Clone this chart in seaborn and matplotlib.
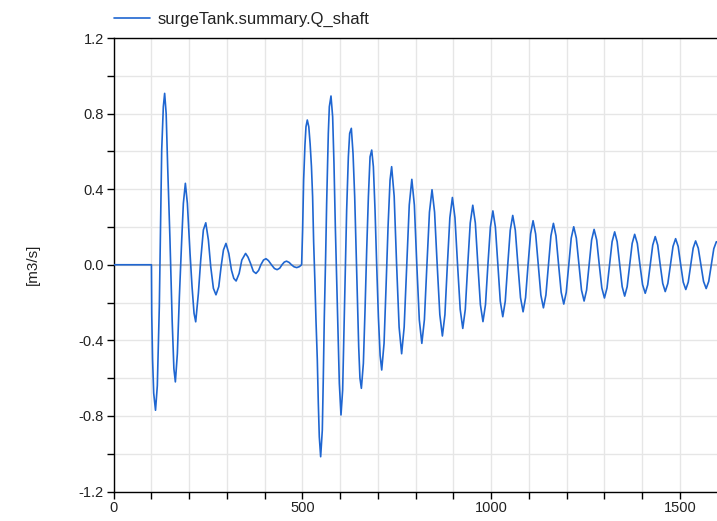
import matplotlib
matplotlib.use("Agg")
import matplotlib.pyplot as plt
import seaborn as sns
import pandas as pd
from matplotlib.ticker import MultipleLocator, FixedLocator

# ---- data ----
series_label = "surgeTank.summary.Q_shaft"
y_label = "[m3/s]"
x_ticks = [0, 500, 1000, 1500]
y_ticks = [-1.2, -0.8, -0.4, 0.0, 0.4, 0.8, 1.2]

first_time = [0, 100, 100.8, 103, 106, 110.8, 115.6, 120.9, 124.5, 127.2, 131.5, 135,
              139, 143, 149, 155, 159.5, 163.4, 168.7, 174, 180.2, 184.6, 189.9,
              195.2, 202.3, 207.6, 212.9, 217.3, 224.4, 230.6, 237.6, 244, 250.9,
              257.1, 264.2, 271, 278.4, 284.6, 290.8, 297.5, 305, 312, 318.2, 324.4,
              332.4, 339.5, 349.5, 356, 363, 370, 377, 384, 390, 397, 403.5, 410,
              418, 426, 433, 440, 446, 452, 458, 465, 471, 478, 485, 492]
first_flow = [0, 0, -0.26, -0.50, -0.68, -0.77, -0.64, -0.22, 0.236, 0.607, 0.836, 0.907,
              0.80, 0.52, 0.14, -0.30, -0.55, -0.62, -0.47, -0.17, 0.13, 0.325, 0.431,
              0.325, 0.06, -0.116, -0.257, -0.302, -0.151, 0.025, 0.184, 0.222, 0.131,
              -0.01, -0.125, -0.159, -0.116, -0.01, 0.078, 0.113, 0.06, -0.028, -0.072, -0.086,
              -0.046, 0.025, 0.06, 0.04, 0.005, -0.035, -0.046, -0.03, 0.0, 0.025, 0.032, 0.022,
              0.0, -0.02, -0.026, -0.018, 0.0, 0.014, 0.019, 0.012, 0.0, -0.011, -0.015, -0.01]

second_time = [498, 500.6, 503.3, 506.8, 509.5, 513, 517, 520.5, 524, 527.1, 529.8,
               533.3, 536, 539.5, 542.2, 544.8, 548.4, 552.8, 555.4, 558.1, 561.6,
               564.3, 568.7, 571.4, 575.8, 580.2, 583.7, 587.3, 590.8, 594.3, 597.9,
               602.3, 606.7, 610.3, 613.8, 617.3, 621.8, 625.3, 629.7, 634.2, 638.6,
               642.1, 645.7, 649.2, 652.5, 656.3, 661.6, 666, 670.4, 674.9, 679.3,
               683.7, 688.1, 692.5, 697, 701.4, 706, 710.2, 716.4, 721.7, 727, 732.3, 736.5]
second_flow = [0.0, 0.184, 0.448, 0.633, 0.73, 0.766, 0.73, 0.64, 0.52, 0.36, 0.122,
               -0.099, -0.293, -0.5, -0.733, -0.91, -1.016, -0.875, -0.6, -0.275, 0.042,
               0.325, 0.695, 0.836, 0.893, 0.783, 0.536, 0.201, -0.063, -0.346, -0.628,
               -0.795, -0.663, -0.346, -0.028, 0.289, 0.571, 0.695, 0.722, 0.589, 0.36,
               0.095, -0.169, -0.434, -0.6, -0.654, -0.522, -0.24, 0.078, 0.36, 0.571,
               0.607, 0.519, 0.289, -0.01, -0.275, -0.48, -0.557, -0.416, -0.116, 0.201, 0.448, 0.519]

decay_time = [
    743.2, 749.7, 756.3, 763,
    769.7, 776.5, 783.2, 790,
    796.7, 803.2, 809.8, 816.5,
    823.3, 830, 836.7, 843.5,
    850.3, 857.2, 864.2, 871,
    877.7, 884.2, 890.8, 897.5,
    904.3, 911.2, 918.2, 925,
    931.7, 938.2, 944.8, 951.5,
    958.3, 965, 971.7, 978.5,
    985.2, 991.6, 998.2, 1004.8,
    1011.4, 1017.9, 1024.4, 1031,
    1037.6, 1044.2, 1050.8, 1057.4,
    1064.2, 1071.1, 1078, 1084.8,
    1091.4, 1098, 1104.7, 1111.3,
    1118.1, 1125, 1131.9, 1138.7,
    1145.3, 1152, 1158.6, 1165.2,
    1172, 1178.9, 1185.8, 1192.6,
    1199.2, 1205.8, 1212.4, 1219,
    1225.9, 1232.8, 1239.6, 1246.5,
    1253.1, 1259.8, 1266.4, 1273,
    1279.9, 1286.7, 1293.5, 1300.4,
    1307.2, 1314, 1320.7, 1327.5,
    1334.1, 1340.8, 1347.4, 1354,
    1360.6, 1367.2, 1373.9, 1380.5,
    1387.5, 1394.5, 1401.5, 1408.5,
    1415.1, 1421.8, 1428.4, 1435,
    1441.6, 1448.2, 1454.9, 1461.5,
    1468.4, 1475.2, 1482.1, 1489,
    1495.8, 1502.5, 1509.2, 1516,
    1522.5, 1529, 1535.5, 1542,
    1549, 1556, 1563, 1570,
    1576.8, 1583.5, 1590.2, 1597,
    1600,
]
decay_flow = [
    0.363, 0.0, -0.33, -0.471,
    -0.33, 0.0, 0.316, 0.452,
    0.316, 0.0, -0.291, -0.416,
    -0.291, 0.0, 0.278, 0.397,
    0.278, 0.0, -0.264, -0.377,
    -0.264, 0.0, 0.249, 0.356,
    0.249, 0.0, -0.236, -0.337,
    -0.236, 0.0, 0.221, 0.315,
    0.221, 0.0, -0.211, -0.301,
    -0.211, 0.0, 0.2, 0.285,
    0.2, 0.0, -0.193, -0.275,
    -0.193, 0.0, 0.183, 0.261,
    0.183, 0.0, -0.174, -0.249,
    -0.174, 0.0, 0.163, 0.233,
    0.163, 0.0, -0.16, -0.228,
    -0.16, 0.0, 0.153, 0.219,
    0.153, 0.0, -0.146, -0.208,
    -0.146, 0.0, 0.141, 0.201,
    0.141, 0.0, -0.134, -0.192,
    -0.134, 0.0, 0.131, 0.187,
    0.131, 0.0, -0.123, -0.176,
    -0.123, 0.0, 0.122, 0.174,
    0.122, 0.0, -0.116, -0.166,
    -0.116, 0.0, 0.113, 0.161,
    0.113, 0.0, -0.106, -0.151,
    -0.106, 0.0, 0.104, 0.149,
    0.104, 0.0, -0.099, -0.142,
    -0.099, 0.0, 0.097, 0.138,
    0.097, 0.0, -0.092, -0.131,
    -0.092, 0.0, 0.088, 0.126,
    0.088, 0.0, -0.088, -0.126,
    -0.088, 0.0, 0.085, 0.122,
    0.118,
]

df = pd.DataFrame({
    "time": first_time + second_time + decay_time,
    "flow": first_flow + second_flow + decay_flow,
})

# ---- style ----
sns.set_theme(style="white")
plt.rcParams["font.family"] = ["Liberation Sans", "DejaVu Sans"]

W, H = 717, 521
fig = plt.figure(figsize=(W / 100, H / 100), dpi=100)
ax_left, ax_right, ax_top, ax_bottom = 113.7, 717.5, 38, 491.5
ax = fig.add_axes([ax_left / W, 1 - ax_bottom / H,
                   (ax_right - ax_left) / W, (ax_bottom - ax_top) / H])

sns.lineplot(data=df, x="time", y="flow", ax=ax, color="#1f66d1", linewidth=1.2,
             sort=False, estimator=None, label=series_label, zorder=3)

ax.set_xlim(0, 1600)
ax.set_ylim(-1.2, 1.2)
ax.xaxis.set_major_locator(FixedLocator(x_ticks))
ax.yaxis.set_major_locator(FixedLocator(y_ticks))
ax.xaxis.set_minor_locator(MultipleLocator(100))
ax.yaxis.set_minor_locator(MultipleLocator(0.2))
ax.set_xticklabels([str(v) for v in x_ticks])
ax.set_yticklabels([f"{v:.1f}" for v in y_ticks])

ax.grid(which="both", color="#e6e6e6", linewidth=1.0, zorder=0)
ax.axhline(0, color="#c4c4c4", linewidth=1.3, zorder=1)
ax.set_axisbelow(True)

for side in ["left", "bottom", "top", "right"]:
    ax.spines[side].set_color("black")
    ax.spines[side].set_linewidth(1.0)

ax.tick_params(which="both", direction="out", length=5, width=1, color="black",
               left=True, bottom=True, labelsize=10.5, labelcolor="#222222", pad=2)

ax.set_xlabel("")
ax.set_ylabel(y_label, fontsize=11, color="#222222", labelpad=28)

leg = ax.legend(loc="lower left", bbox_to_anchor=(0.0, 1.025), frameon=False,
                fontsize=12, handlelength=2.2, handletextpad=0.45,
                borderpad=0.0, borderaxespad=0.0, labelcolor="#222222")

fig.savefig("out.png", dpi=100, facecolor="white")
